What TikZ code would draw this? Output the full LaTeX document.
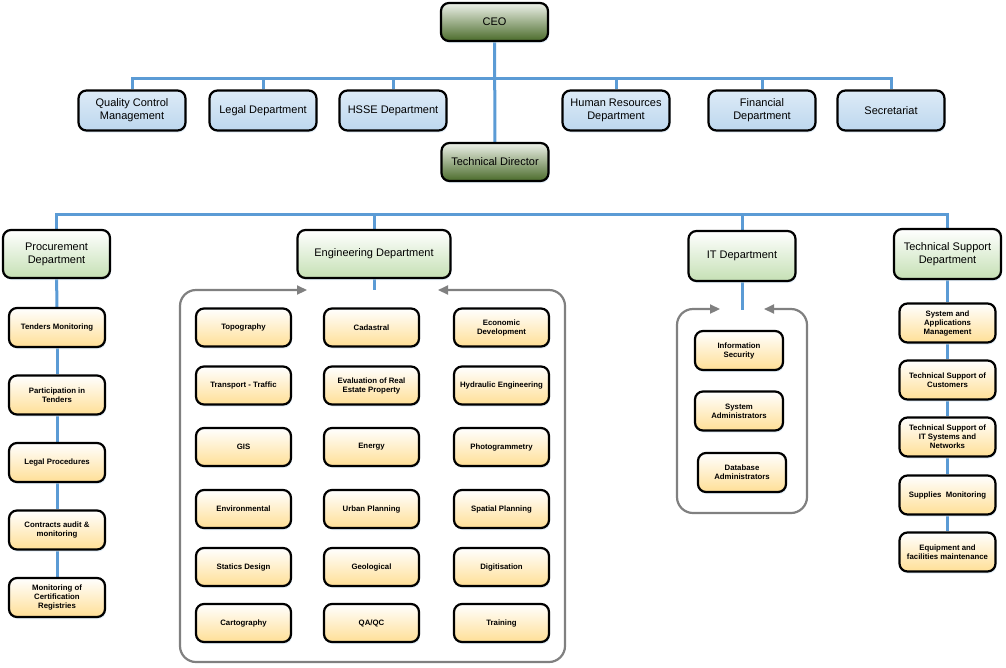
\documentclass[tikz,border=0pt]{standalone}
\usepackage{fontspec}
\setmainfont{Liberation Sans}
\usetikzlibrary{arrows.meta,shadows,backgrounds}

\definecolor{linkblue}{HTML}{5B9BD5}
\definecolor{framegray}{HTML}{808080}
\definecolor{topblueA}{HTML}{DDEBF7}
\definecolor{topblueB}{HTML}{BDD7EE}
\definecolor{headA}{HTML}{EEF2EA}
\definecolor{headB}{HTML}{4A6B2A}
\definecolor{deptB}{HTML}{C5E0B4}
\definecolor{unitB}{HTML}{FFDF96}

\begin{document}
\begin{tikzpicture}[x=1pt,y=1pt]
\tikzset{
  box/.style={draw=black, line width=2.2pt, rounded corners=8pt, align=center, inner sep=1pt,
    drop shadow={shadow xshift=1pt, shadow yshift=-2pt, fill=linkblue!30, opacity=.6}},
  topbox/.style={box, top color=topblueA, bottom color=topblueB, minimum width=107pt, minimum height=40pt,
    font=\fontsize{11}{13}\selectfont},
  headbox/.style={box, top color=headA, bottom color=headB, minimum width=107pt, minimum height=38pt,
    font=\fontsize{11}{13}\selectfont},
  deptbox/.style={box, top color=white, bottom color=deptB, minimum width=107pt, minimum height=48pt,
    font=\fontsize{11}{13}\selectfont},
  unitbox/.style={box, top color=white, bottom color=unitB, minimum width=96pt, minimum height=39pt,
    font=\fontsize{7.8}{9}\selectfont\bfseries},
  link/.style={draw=linkblue, line width=3pt},
  frame/.style={draw=framegray, line width=2.2pt, rounded corners=16pt,
    {Triangle[length=10pt,width=9pt]}-{Triangle[length=10pt,width=9pt]}},
}
\useasboundingbox (0,0) rectangle (1006,-667);

% top levels
\node[headbox] (ceo) at (494.5,-22) {CEO};
\node[headbox] (td) at (495,-162) {Technical Director};
\node[topbox] (qcm) at (132,-110.5) {Quality Control\\Management};
\node[topbox] (legal) at (263,-110.5) {Legal Department};
\node[topbox] (hsse) at (393,-110.5) {HSSE Department};
\node[topbox] (hr) at (616,-110.5) {Human Resources\\Department};
\node[topbox] (fin) at (762,-110.5) {Financial\\Department};
\node[topbox] (sec) at (891,-110.5) {Secretariat};
\coordinate (bus1) at (494.5,-78);

% departments
\node[deptbox] (proc) at (56.5,-254) {Procurement\\Department};
\node[deptbox, minimum width=153pt] (eng) at (374,-254) {Engineering Department};
\node[deptbox, minimum height=50pt] (itd) at (742,-256) {IT Department};
\node[deptbox, minimum height=50pt] (tsd) at (947.5,-254) {Technical Support\\Department};
\coordinate (bus2) at (495,-214);

% procurement
\node[unitbox] (pr1) at (57,-327.5) {Tenders Monitoring};
\node[unitbox] (pr2) at (57,-395) {Participation in\\Tenders};
\node[unitbox] (pr3) at (57,-462.5) {Legal Procedures};
\node[unitbox] (pr4) at (57,-530) {Contracts audit \&\\monitoring};
\node[unitbox] (pr5) at (57,-597.5) {Monitoring of\\Certification\\Registries};

% engineering
\node[unitbox, minimum width=95pt, minimum height=38pt] (en1) at (243.5,-327.5) {Topography};
\node[unitbox, minimum width=95pt, minimum height=38pt] (en2) at (371.5,-327.5) {Cadastral};
\node[unitbox, minimum width=95pt, minimum height=38pt] (en3) at (501.5,-327.5) {Economic\\Development};
\node[unitbox, minimum width=95pt, minimum height=38pt] (en4) at (243.5,-385.5) {Transport - Traffic};
\node[unitbox, minimum width=95pt, minimum height=38pt] (en5) at (371.5,-385.5) {Evaluation of Real\\Estate Property};
\node[unitbox, minimum width=95pt, minimum height=38pt] (en6) at (501.5,-385.5) {Hydraulic Engineering};
\node[unitbox, minimum width=95pt, minimum height=38pt] (en7) at (243.5,-447) {GIS};
\node[unitbox, minimum width=95pt, minimum height=38pt] (en8) at (371.5,-447) {Energy};
\node[unitbox, minimum width=95pt, minimum height=38pt] (en9) at (501.5,-447) {Photogrammetry};
\node[unitbox, minimum width=95pt, minimum height=38pt] (en10) at (243.5,-509) {Environmental};
\node[unitbox, minimum width=95pt, minimum height=38pt] (en11) at (371.5,-509) {Urban Planning};
\node[unitbox, minimum width=95pt, minimum height=38pt] (en12) at (501.5,-509) {Spatial Planning};
\node[unitbox, minimum width=95pt, minimum height=38pt] (en13) at (243.5,-567) {Statics Design};
\node[unitbox, minimum width=95pt, minimum height=38pt] (en14) at (371.5,-567) {Geological};
\node[unitbox, minimum width=95pt, minimum height=38pt] (en15) at (501.5,-567) {Digitisation};
\node[unitbox, minimum width=95pt, minimum height=38pt] (en16) at (243.5,-623) {Cartography};
\node[unitbox, minimum width=95pt, minimum height=38pt] (en17) at (371.5,-623) {QA/QC};
\node[unitbox, minimum width=95pt, minimum height=38pt] (en18) at (501.5,-623) {Training};
\coordinate (engdrop) at (374,-290);
\coordinate (engL) at (307,-290);
\coordinate (engR) at (438,-290);

% IT
\node[unitbox, minimum width=88pt] (it1) at (739,-350.5) {Information\\Security};
\node[unitbox, minimum width=88pt] (it2) at (739,-411) {System\\Administrators};
\node[unitbox, minimum width=88pt] (it3) at (742,-472.5) {Database\\Administrators};
\coordinate (itdrop) at (742,-310);
\coordinate (itL) at (720,-309);
\coordinate (itR) at (764,-309);

% technical support
\node[unitbox] (ts1) at (947.5,-323) {System and\\Applications\\Management};
\node[unitbox] (ts2) at (947.5,-380) {Technical Support of\\Customers};
\node[unitbox] (ts3) at (947.5,-437) {Technical Support of\\IT Systems and\\Networks};
\node[unitbox] (ts4) at (947.5,-495) {Supplies\ \ Monitoring};
\node[unitbox] (ts5) at (947.5,-552) {Equipment and\\facilities maintenance};

\begin{scope}[on background layer]
\draw[link] (ceo) -- (td);
\draw[link] (qcm) |- (bus1) -| (sec);
\foreach \d in {legal,hsse,hr,fin}
  \draw[link] (\d) -- (\d |- bus1);
\draw[link] (proc) |- (bus2) -| (tsd);
\foreach \d in {eng,itd}
  \draw[link] (\d) -- (\d |- bus2);
\foreach \a/\b in {proc/pr1,pr1/pr2,pr2/pr3,pr3/pr4,pr4/pr5,tsd/ts1,ts1/ts2,ts2/ts3,ts3/ts4,ts4/ts5}
  \draw[link] (\a) -- (\b);
\draw[link] (eng) -- (engdrop);
\draw[link] (itd) -- (itdrop);
\end{scope}

% group frames
\draw[frame] (engL) -- (180,-290) -- (180,-662) -- (565,-662) -- (565,-290) -- (engR);
\draw[frame] (itL) -- (677,-309) -- (677,-513) -- (807,-513) -- (807,-309) -- (itR);
\end{tikzpicture}
\end{document}
